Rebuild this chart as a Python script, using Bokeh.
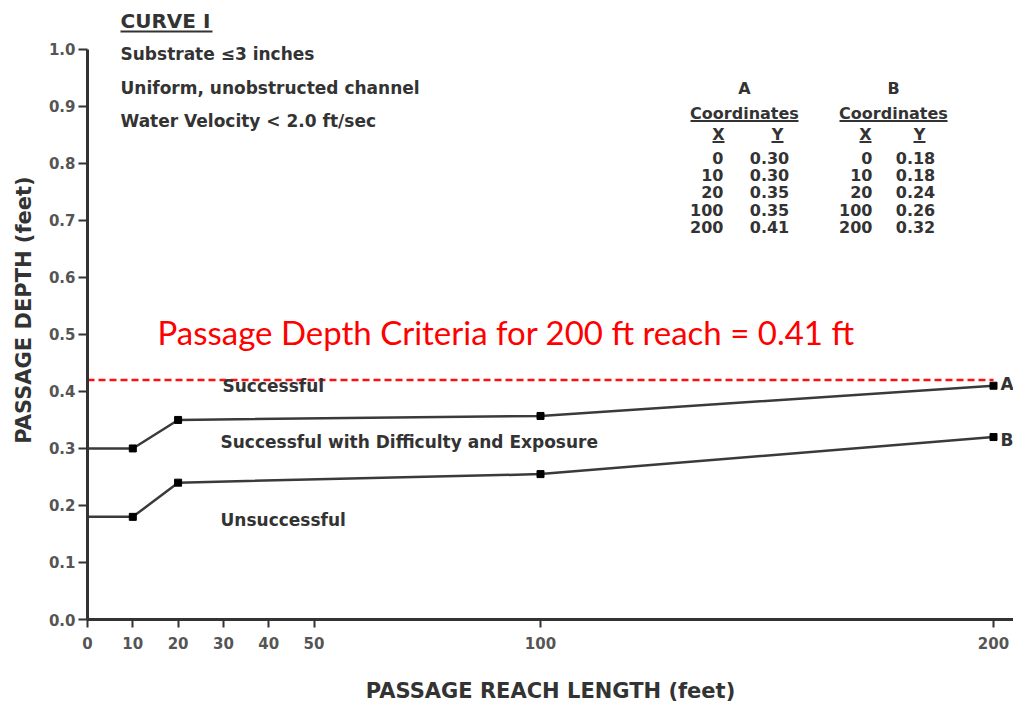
import math
from bokeh.plotting import figure
from bokeh.models import Range1d, FixedTicker, PrintfTickFormatter, ColumnDataSource
from bokeh.embed import file_html
from bokeh.resources import INLINE
from bokeh.core.properties import value

# ---------------- data ----------------
reach_x = [0, 10, 20, 100, 200]
curve_a_y = [0.30, 0.30, 0.35, 0.357, 0.41]
curve_b_y = [0.18, 0.18, 0.24, 0.255, 0.32]
table_x = ["0", "10", "20", "100", "200"]
table_a_y = ["0.30", "0.30", "0.35", "0.35", "0.41"]
table_b_y = ["0.18", "0.18", "0.24", "0.26", "0.32"]
criteria_x = [0, 200]
criteria_y = [0.42, 0.42]
x_ticks = [0, 10, 20, 30, 40, 50, 100, 200]
y_ticks = [0.0, 0.1, 0.2, 0.3, 0.4, 0.5, 0.6, 0.7, 0.8, 0.9, 1.0]
header_lines = ["Substrate \u22643 inches", "Uniform, unobstructed channel", "Water Velocity < 2.0 ft/sec"]
zone_labels = ["Successful", "Successful with Difficulty and Exposure", "Unsuccessful"]

# ---------------- layout helpers (page px -> data) ----------------
X0_PX, X_SCALE = 87.0, 4.53
Y0_PX, Y_SCALE = 621.0, 572.0
def dx(px):
    return (px - X0_PX) / X_SCALE
def dy(py):
    return (Y0_PX - py) / Y_SCALE

W, H = 1013, 705
LEFT = int(X0_PX)
BOTTOM = H - int(Y0_PX)
frame_w = W - LEFT
frame_h = H - BOTTOM

p = figure(width=W, height=H, output_backend="svg", toolbar_location=None,
           x_range=Range1d(0, frame_w / X_SCALE), y_range=Range1d(0, frame_h / Y_SCALE),
           min_border_left=LEFT, min_border_right=0, min_border_top=0, min_border_bottom=BOTTOM)
p.outline_line_color = None
p.xgrid.visible = False
p.ygrid.visible = False
p.background_fill_color = "white"
p.border_fill_color = "white"

AX = "#333333"
TXT = "#333333"
for ax in (p.xaxis[0], p.yaxis[0]):
    ax.axis_line_color = AX
    ax.axis_line_width = 3
    ax.major_tick_line_color = AX
    ax.major_tick_line_width = 2
    ax.major_tick_in = 0
    ax.minor_tick_line_color = None
    ax.major_label_text_font = "DejaVu Sans"
    ax.major_label_text_font_style = "bold"
    ax.major_label_text_font_size = "15px"
    ax.major_label_text_color = "#555555"
    ax.axis_label_text_font = "DejaVu Sans"
    ax.axis_label_text_font_style = "bold"
    ax.axis_label_text_font_size = "21px"
    ax.axis_label_text_color = TXT

p.xaxis.ticker = FixedTicker(ticks=x_ticks)
p.xaxis.major_tick_out = 8
p.xaxis.major_label_standoff = 9
p.xaxis.axis_label = "PASSAGE REACH LENGTH (feet)"
p.xaxis.axis_label_standoff = 27

p.yaxis.ticker = FixedTicker(ticks=y_ticks)
p.yaxis.formatter = PrintfTickFormatter(format="%.1f")
p.yaxis.bounds = (0, 1)
p.yaxis.major_tick_out = 9
p.yaxis.major_label_standoff = 3
p.yaxis.axis_label = "PASSAGE DEPTH (feet)"
p.yaxis.axis_label_standoff = 10

# ---------------- curves ----------------
LINE = "#3a3a3a"
p.line(reach_x, curve_a_y, line_color=LINE, line_width=2.5)
p.line(reach_x, curve_b_y, line_color=LINE, line_width=2.5)
p.scatter(reach_x[1:], curve_a_y[1:], marker="square", size=7, color="black")
p.scatter(reach_x[1:], curve_b_y[1:], marker="square", size=7, color="black")

# red criteria line
p.line(criteria_x, criteria_y, line_color="#ff1010", line_width=2.5, line_dash="7 4")

FONT = value("DejaVu Sans")

def texts(xs, ys, t, size, align="left", color=TXT, font=FONT, style="bold"):
    src = ColumnDataSource(dict(x=xs, y=ys, t=t))
    p.text(x="x", y="y", text="t", source=src, text_font=font, text_font_style=style,
           text_font_size=size, text_align=align, text_baseline="middle", text_color=color)

# header
texts([dx(120)], [dy(20.5)], ["CURVE I"], "20px")
p.segment(x0=[dx(120)], y0=[dy(31)], x1=[dx(212)], y1=[dy(31)], line_color=TXT, line_width=2)
texts([dx(120)] * 3, [dy(54), dy(88), dy(121)], header_lines, "17px")

# zone labels
texts([dx(222), dx(220), dx(220)], [dy(387), dy(443), dy(521)], zone_labels, "17px")

# curve end letters
texts([dx(1000), dx(1000)], [dy(385), dy(441)], ["A", "B"], "17px")

# red annotation
texts([dx(157)], [dy(333)], ["Passage Depth Criteria for 200 ft reach = 0.41 ft"], "33px",
      color="#ff0000", font=value("Lato"), style="normal")

# coordinate tables
row_py = [158 + 17.3 * i for i in range(5)]
for name, cx, xcol_c, xval_r, ycol_c, yval_c, yvals in (
        ("A", 744, 718, 723, 777, 769, table_a_y),
        ("B", 893, 865, 872, 919, 915, table_b_y)):
    texts([dx(cx)], [dy(88)], [name], "16px", align="center")
    texts([dx(cx)], [dy(113)], ["Coordinates"], "16px", align="center")
    p.segment(x0=[dx(cx - 54)], y0=[dy(121)], x1=[dx(cx + 54)], y1=[dy(121)], line_color=TXT, line_width=2)
    texts([dx(xcol_c), dx(ycol_c)], [dy(134), dy(134)], ["X", "Y"], "16px", align="center")
    p.segment(x0=[dx(xcol_c - 6), dx(ycol_c - 6)], y0=[dy(142)] * 2,
              x1=[dx(xcol_c + 6), dx(ycol_c + 6)], y1=[dy(142)] * 2, line_color=TXT, line_width=2)
    texts([dx(xval_r)] * 5, [dy(v) for v in row_py], table_x, "16px", align="right")
    texts([dx(yval_c)] * 5, [dy(v) for v in row_py], yvals, "16px", align="center")

open("out.html", "w").write(file_html(p, INLINE))
